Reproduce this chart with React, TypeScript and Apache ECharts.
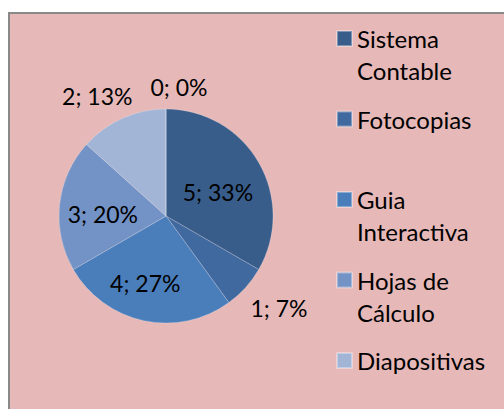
import React, { useEffect, useRef } from "react";
import * as echarts from "echarts";

// Data
const categories = ["Sistema Contable", "Fotocopias", "Guia Interactiva", "Hojas de Cálculo", "Diapositivas", ""];
const values = [5, 1, 4, 3, 2, 0];
const legendNames = ["Sistema Contable", "Fotocopias", "Guia Interactiva", "Hojas de Cálculo", "Diapositivas"];
const legendWrapped = ["Sistema\nContable", "Fotocopias", "Guia\nInteractiva", "Hojas de\nCálculo", "Diapositivas"];

// Styles
const colors = ["#385D8A", "#4069A0", "#4A7EBB", "#7393C6", "#A3B5D6", "#A3B5D6"];
const labelPositions = ["inside", "outside", "inside", "inside", "outside", "outside"];
const labelShift = [
  { dx: 3, dy: 4 },
  { dx: 5, dy: 20 },
  { dx: -9, dy: 12 },
  { dx: -7, dy: 4 },
  { dx: 10, dy: -22 },
  { dx: 13, dy: -22, align: "center" },
];

const FONT = "Lato, 'Open Sans', sans-serif";

export default function App() {
  const ref = useRef<HTMLDivElement>(null);
  useEffect(() => {
    if (!ref.current) return;
    const chart = echarts.init(ref.current, null, { renderer: "svg" });
    const data = categories.map((name, i) => ({
      name,
      value: values[i],
      itemStyle: { color: colors[i] },
      label: { position: labelPositions[i] },
    }));
    chart.setOption({
      animation: false,
      backgroundColor: "#ffffff",
      graphic: [
        {
          type: "rect",
          z: 0,
          silent: true,
          shape: { x: 9, y: 13, width: 520, height: 420 },
          style: { fill: "#E6B9B8", stroke: "#898989", lineWidth: 2 },
        },
      ],
      legend: {
        orient: "vertical",
        left: 336,
        top: -9.5,
        padding: 0,
        itemGap: -15.5,
        itemWidth: 15,
        itemHeight: 15,
        icon: "rect",
        data: legendNames,
        formatter: (name: string) => {
          const idx = legendNames.indexOf(name);
          const t = legendWrapped[idx];
          return "\n" + t + (t.indexOf("\n") < 0 ? "\n" : "");
        },
        textStyle: {
          fontFamily: FONT,
          fontSize: 24,
          lineHeight: 32,
          color: "#000000",
        },
      },
      series: [
        {
          type: "pie",
          center: [166, 216],
          radius: 107,
          startAngle: 90,
          clockwise: true,
          avoidLabelOverlap: false,
          percentPrecision: 0,
          itemStyle: { borderColor: "rgba(255,255,255,0.35)", borderWidth: 0.6 },
          label: {
            show: true,
            formatter: "{c}; {d}%",
            fontFamily: FONT,
            fontSize: 23,
            color: "#000000",
            distanceToLabelLine: 0,
          },
          labelLine: { show: false, length: 0, length2: 0 },
          labelLayout: (params: any) => labelShift[params.dataIndex],
          data,
        },
      ],
    });
    return () => chart.dispose();
  }, []);
  return (
    <div
      ref={ref}
      style={{ position: "fixed", left: 0, top: 0, width: 504, height: 409 }}
    />
  );
}
